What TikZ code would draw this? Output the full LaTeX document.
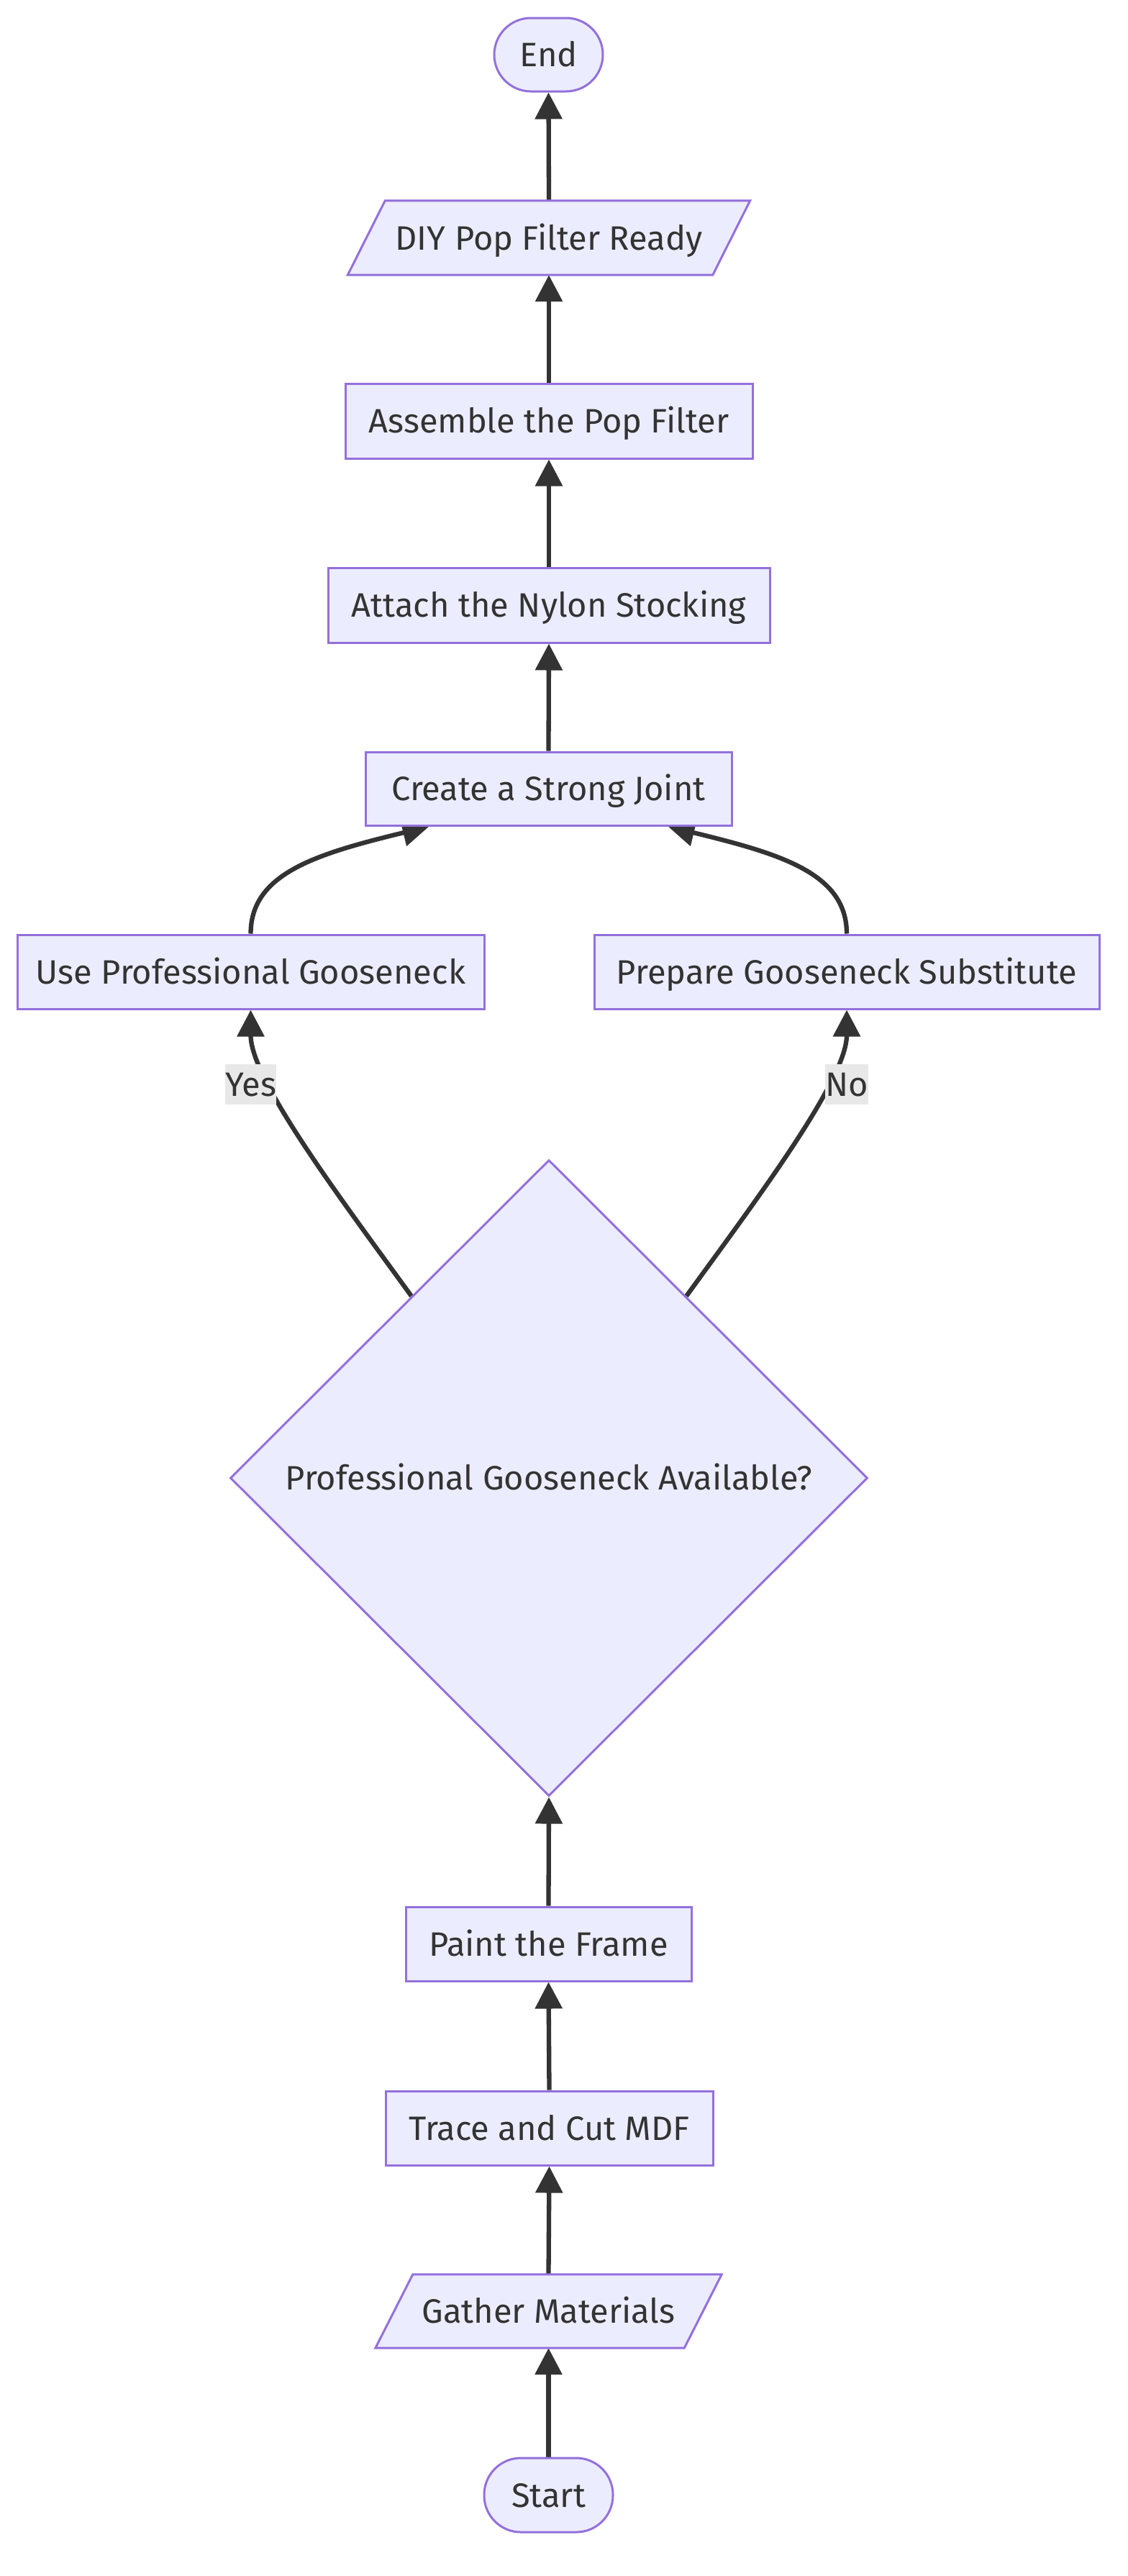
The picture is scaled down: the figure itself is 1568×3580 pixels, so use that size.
\documentclass[tikz,border=0pt]{standalone}
\usepackage{fontspec}
\setmainfont{Fira Sans}
\usetikzlibrary{shapes.geometric,arrows.meta,calc}
\definecolor{nodefill}{HTML}{ECECFF}
\definecolor{nodeline}{HTML}{9370DB}
\definecolor{edgecol}{HTML}{333333}
\definecolor{labelbg}{HTML}{E8E8E8}
\pgfdeclarelayer{bglayer}
\pgfdeclarelayer{edgelayer}
\pgfdeclarelayer{paralayer}
\pgfsetlayers{bglayer,edgelayer,paralayer,main}
\newcommand{\nodefont}{\fontsize{47pt}{56pt}\selectfont}
\tikzset{
  txt/.style={text=edgecol, font=\nodefont, text height=43pt, text depth=10pt, inner sep=0pt},
  box/.style={txt, rectangle, draw=nodeline, fill=nodefill, line width=3pt},
  term/.style={box, rounded corners=51pt},
  paratext/.style={txt, rectangle},
  paraline/.style={draw=nodeline, fill=nodefill, line width=3pt, line join=miter},
  decision/.style={txt, diamond, aspect=1, draw=nodeline, fill=nodefill, line width=3pt},
  lbl/.style={txt, fill=labelbg, minimum height=56pt},
  edge/.style={draw=edgecol, line width=6.3pt, -{Triangle[length=37pt,width=37pt]}}
}
\begin{document}
\begin{tikzpicture}[x=1pt,y=-1pt]
\useasboundingbox (0,0) rectangle (1568,3580);
\begin{pgfonlayer}{bglayer}
\fill[white] (0,0) rectangle (1568,3580);
\end{pgfonlayer}

\node[term, minimum width=151pt, minimum height=102pt] (end) at (762.5,76) {End};
\node[paratext, minimum width=507pt, minimum height=103pt] (diy) at (763,330.5) {DIY Pop Filter Ready};
\node[box, minimum width=566pt, minimum height=104pt] (asm) at (763,585) {Assemble the Pop Filter};
\node[box, minimum width=614pt, minimum height=104pt] (att) at (763,841) {Attach the Nylon Stocking};
\node[box, minimum width=509pt, minimum height=102pt] (joint) at (762.5,1096) {Create a Strong Joint};
\node[box, minimum width=649pt, minimum height=103pt] (use) at (348.5,1350.5) {Use Professional Gooseneck};
\node[box, minimum width=702pt, minimum height=103pt] (prep) at (1177,1350.5) {Prepare Gooseneck Substitute};
\node[decision, minimum width=886pt, minimum height=884pt] (dec) at (763,2054) {Professional Gooseneck Available?};
\node[box, minimum width=397pt, minimum height=103pt] (paint) at (762.5,2701.5) {Paint the Frame};
\node[box, minimum width=455pt, minimum height=103pt] (trace) at (763.5,2957.5) {Trace and Cut MDF};
\node[paratext, minimum width=429pt, minimum height=102pt] (gather) at (762.5,3212) {Gather Materials};
\node[term, minimum width=179pt, minimum height=103pt] (start) at (762.5,3467.5) {Start};

\begin{pgfonlayer}{paralayer}
\draw[paraline] ([xshift=-26pt]diy.south west) -- ([xshift=26pt]diy.north west) -- ([xshift=26pt]diy.north east) -- ([xshift=-26pt]diy.south east) -- cycle;
\draw[paraline] ([xshift=-26pt]gather.south west) -- ([xshift=26pt]gather.north west) -- ([xshift=26pt]gather.north east) -- ([xshift=-26pt]gather.south east) -- cycle;
\end{pgfonlayer}

\begin{pgfonlayer}{edgelayer}
\draw[edge] (start.north) -- (gather.south);
\draw[edge] (gather.north) -- (trace.south);
\draw[edge] (trace.north) -- (paint.south);
\draw[edge] (paint.north) -- (dec.south);
\draw[edge] ($(dec.north)!0.43!(dec.west)$) .. controls +(-92,-127) and +(0,98) .. (use.south);
\draw[edge] ($(dec.north)!0.43!(dec.east)$) .. controls +(92,-127) and +(0,98) .. (prep.south);
\draw[edge] (use.north) .. controls +(0,-84) and +(-156,38) .. ($(joint.south)+(-166,0)$);
\draw[edge] (prep.north) .. controls +(0,-84) and +(156,38) .. ($(joint.south)+(166,0)$);
\draw[edge] (joint.north) -- (att.south);
\draw[edge] (att.north) -- (asm.south);
\draw[edge] (asm.north) -- (diy.south);
\draw[edge] (diy.north) -- (end.south);
\end{pgfonlayer}

\node[lbl, minimum width=68pt] (yes) at (348.7,1507) {Yes};
\node[lbl, minimum width=58pt] (no) at (1177,1507) {No};
\end{tikzpicture}
\end{document}
